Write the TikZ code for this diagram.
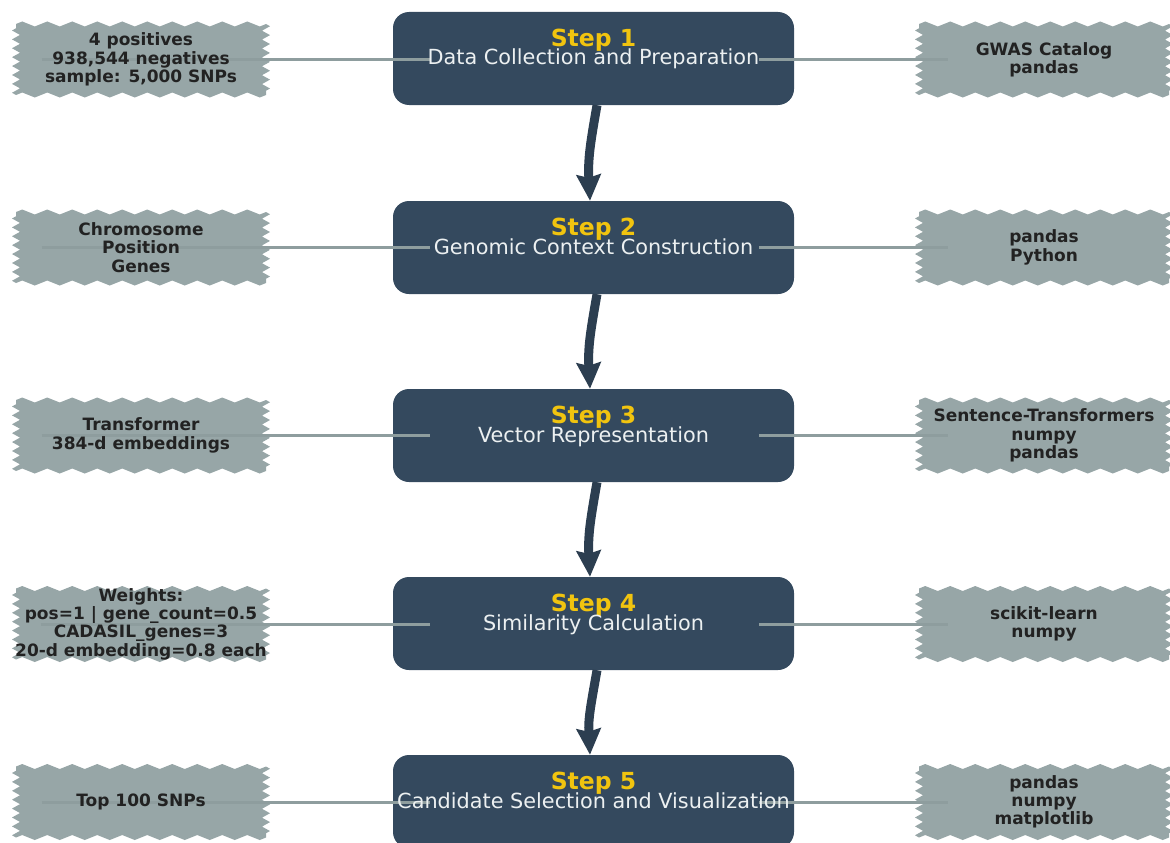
\documentclass[tikz,border=0pt]{standalone}
\usepackage{fontspec}
\setmainfont{DejaVu Sans}
\usetikzlibrary{arrows.meta,decorations.pathmorphing}
\definecolor{stepfill}{HTML}{34495E}
\definecolor{arrowc}{HTML}{2C3E50}
\definecolor{titlec}{HTML}{F1C40F}
\definecolor{subc}{HTML}{ECF0F1}
\definecolor{sawc}{HTML}{97A6A7}
\definecolor{sidetext}{HTML}{222222}
\definecolor{linec}{HTML}{8E9D9E}
\pgfdeclarelayer{bg}
\pgfdeclarelayer{mid}
\pgfsetlayers{bg,mid,main}
\tikzset{
 stepbox/.style={rounded corners=16pt, fill=stepfill, minimum width=401pt, minimum height=93pt, inner sep=0pt},
 steptitle/.style={anchor=base, text=titlec, font=\bfseries\fontsize{23.5}{26}\selectfont},
 stepsub/.style={anchor=base, text=subc, font=\fontsize{20.8}{23}\selectfont},
 sidebox/.style={minimum width=250pt, minimum height=71pt, inner sep=0pt, align=center, text=sidetext, font=\bfseries\fontsize{17}{18.3}\selectfont},
 conn/.style={draw=linec, line width=3pt},
 flow/.style={draw=arrowc, line width=9pt, -{Stealth[length=26pt,width=24pt,inset=3pt]}},
 sawtop/.style={decoration={zigzag,segment length=25pt,amplitude=2.5pt}},
 sawside/.style={decoration={zigzag,segment length=8.9pt,amplitude=4pt}},
}
\newcommand\sawfill[1]{%
 \fill[sawc] ([shift={(-125pt,35.5pt)}]#1.center)
   decorate[sawtop]{-- ([shift={(125pt,35.5pt)}]#1.center)}
   decorate[sawside]{-- ([shift={(125pt,-35.5pt)}]#1.center)}
   decorate[sawtop]{-- ([shift={(-125pt,-35.5pt)}]#1.center)}
   decorate[sawside]{-- ([shift={(-125pt,35.5pt)}]#1.center)} -- cycle;}
\begin{document}
\begin{tikzpicture}[x=1pt,y=-1pt]
\useasboundingbox (0,0) rectangle (1170,843);
% step boxes
\begin{pgfonlayer}{bg}
\node[stepbox] (s1) at (593.5,58.5) {};
\node[stepbox] (s2) at (593.5,247.5) {};
\node[stepbox] (s3) at (593.5,435.5) {};
\node[stepbox] (s4) at (593.5,623.5) {};
\node[stepbox] (s5) at (593.5,801.5) {};
\end{pgfonlayer}
% side boxes
\node[sidebox] (l1) at (141,59.5) {4 positives\\938,544 negatives\\sample: 5,000 SNPs};
\node[sidebox] (r1) at (1044,59.5) {GWAS Catalog\\pandas};
\node[sidebox] (l2) at (141,247.5) {Chromosome\\Position\\Genes};
\node[sidebox] (r2) at (1044,247.5) {pandas\\Python};
\node[sidebox] (l3) at (141,435.5) {Transformer\\384-d embeddings};
\node[sidebox] (r3) at (1044,435.5) {Sentence-Transformers\\numpy\\pandas};
\node[sidebox] (l4) at (141,624) {Weights:\\pos=1 | gene\_count=0.5\\CADASIL\_genes=3\\20-d embedding=0.8 each};
\node[sidebox] (r4) at (1044,624) {scikit-learn\\numpy};
\node[sidebox] (l5) at (141,802) {Top 100 SNPs};
\node[sidebox] (r5) at (1044,802) {pandas\\numpy\\matplotlib};
\begin{pgfonlayer}{bg}
\foreach \n in {l1,r1,l2,r2,l3,r3,l4,r4,l5,r5} {\sawfill{\n}}
\end{pgfonlayer}
% connectors
\begin{pgfonlayer}{mid}
\foreach \i in {1,...,5} {
 \draw[conn] ([xshift=26pt]l\i.west) -- ([xshift=37pt]s\i.west |- l\i.west);
 \draw[conn] ([xshift=-35pt]s\i.east |- r\i.west) -- ([xshift=29pt]r\i.west);
}
\end{pgfonlayer}
% step texts
\node[steptitle] (t1) at ([yshift=12pt]s1.center) {Step 1};
\node[stepsub] (u1) at ([yshift=-6.5pt]s1.center) {Data Collection and Preparation};
\node[steptitle] (t2) at ([yshift=12pt]s2.center) {Step 2};
\node[stepsub] (u2) at ([yshift=-6.5pt]s2.center) {Genomic Context Construction};
\node[steptitle] (t3) at ([yshift=12pt]s3.center) {Step 3};
\node[stepsub] (u3) at ([yshift=-6.5pt]s3.center) {Vector Representation};
\node[steptitle] (t4) at ([yshift=12pt]s4.center) {Step 4};
\node[stepsub] (u4) at ([yshift=-6.5pt]s4.center) {Similarity Calculation};
\node[steptitle] (t5) at ([yshift=12pt]s5.center) {Step 5};
\node[stepsub] (u5) at ([yshift=-6.5pt]s5.center) {Candidate Selection and Visualization};
% flow arrows
\foreach \a/\b in {s1/s2,s2/s3,s3/s4,s4/s5} {
 \draw[flow] ([xshift=3.5pt]\a.south) to[out=-100,in=93,looseness=1.1] ([xshift=-3.5pt]\b.north);
}
\end{tikzpicture}
\end{document}
